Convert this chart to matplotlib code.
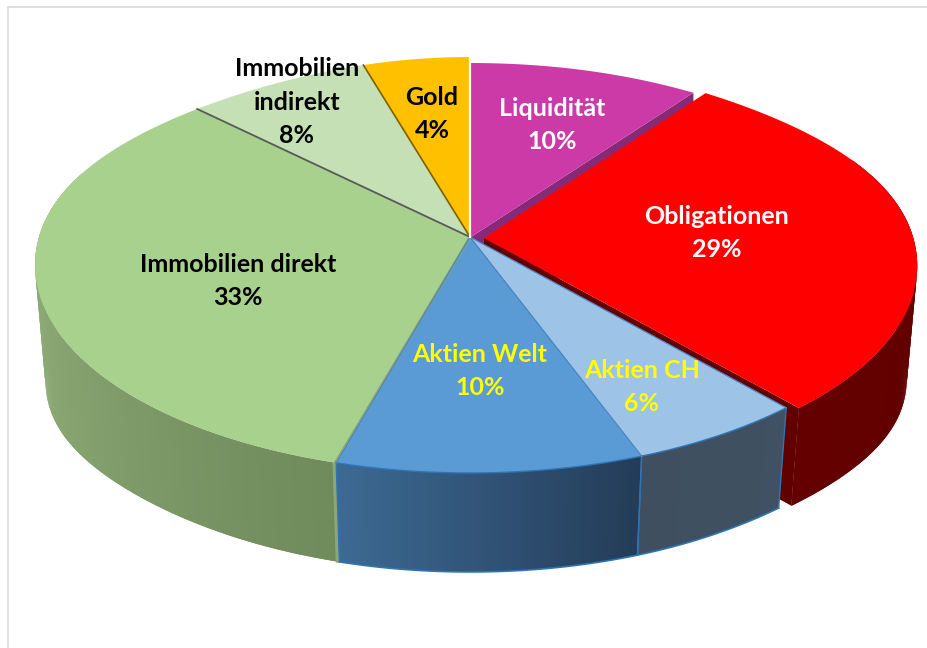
import numpy as np
import matplotlib
matplotlib.use("Agg")
import matplotlib.pyplot as plt

# shares, the printed labels are rounded
names = ["Liquidität", "Obligationen", "Aktien CH", "Aktien Welt",
         "Immobilien direkt", "Immobilien\nindirekt", "Gold"]
shares = [9.7, 28.8, 5.8, 10.0, 33.4, 7.7, 4.5]
percent_labels = ["10%", "29%", "6%", "10%", "33%", "8%", "4%"]

top_colors = ["#cc3aa8", "#ff0000", "#9dc3e6", "#5b9bd5", "#a9d18e", "#c5e0b4", "#ffc000"]
text_colors = ["white", "white", "#ffff00", "#ffff00", "black", "black", "black"]
# label centres, pixels
label_pos = [(552, 125), (717, 233), (642, 387), (480, 371), (238, 281), (297, 102), (432, 114)]

# projection of the tilted disc, pixels
cx, cy = 470.0, 237.0
rad_x, rad_y, persp = 431.0, 204.2, 0.1346
depth = 99.0
bottom_scale = 0.976


def ring(theta, scale=1.0, dx=0.0, dy=0.0, sink=0.0):
    # theta in degrees, clockwise from 12 o'clock
    t = np.radians(theta)
    u, v = np.sin(t), np.cos(t)
    d = 1 + persp * v
    # the back shoulders of the reference sit a little lower than an ellipse
    shoulder = 6 * np.sin(2 * t) ** 2 * (v > 0)
    return (cx + scale * rad_x * u / d + dx,
            cy - scale * rad_y * v / d + dy + shoulder + sink * np.clip(v, 0, 1) ** 8)


def to_bottom(x, y):
    # wall gets a bit taller towards the far left and right
    bump = 16 * (np.abs(x - cx) / 435) ** 8
    return cx + (x - cx) * bottom_scale, y + depth + bump


def wall(ax, a, b, col_a, col_b, dx=0.0, dy=0.0, scale=1.0, lift=0.0):
    # side wall as thin overlapping quads, drawn from back to front,
    # so the shading can run along the rim
    steps = max(int(abs(b - a) * 2), 1)
    col_a = np.array(matplotlib.colors.to_rgb(col_a))
    col_b = np.array(matplotlib.colors.to_rgb(col_b))
    angles = np.linspace(a, b, steps + 1)
    for i in range(steps):
        x, y = ring(angles[i:i + 3], scale)
        bx, by = to_bottom(x, y)
        f = i / steps
        c = col_a + (col_b - col_a) * f
        ax.fill(np.r_[x + dx, bx[::-1] + dx], np.r_[y + dy, by[::-1] + dy - lift],
                color=c, lw=0, zorder=2)


def top(ax, a, b, color, scale=1.0, dx=0.0, dy=0.0, z=4, sink=0.0):
    x, y = ring(np.linspace(a, b, 200), scale, dx, dy, sink)
    ax.fill(np.r_[cx + dx, x], np.r_[cy + dy, y], color=color, lw=0, zorder=z)


def main():
    fig = plt.figure(figsize=(9.27, 6.48), dpi=100)
    ax = fig.add_axes([0, 0, 1, 1])
    ax.set_xlim(0, 927)
    ax.set_ylim(648, 0)
    ax.axis("off")

    # frame of the chart area
    ax.plot([8, 8, 927], [648, 6.5, 6.5], color="#d9d9d9", lw=1.2, zorder=1)

    edges = np.r_[0, np.cumsum(shares)] / sum(shares) * 360
    red_dx, red_dy, red_scale = 14.0, 1.0, 0.996

    # Liquiditaet cut face, mostly hidden behind the red slice
    x, y = ring(edges[1], 1.0, 1.0, 0.0, 6.0)
    ax.fill([cx + 1, x, x, cx + 1], [cy, y, y + depth, cy + depth], color="#862a78", lw=0, zorder=1.5)

    # red wall and its cut face, bottom edge sits slightly higher than the others
    wall(ax, 65, edges[2], "#5f0000", "#640000", red_dx, red_dy, red_scale, lift=2.5)
    x, y = ring(edges[2], red_scale, red_dx, red_dy)
    bx, by = to_bottom(x - red_dx, y - red_dy)
    ax.fill([cx + red_dx, x, bx + red_dx, cx + red_dx], [cy + red_dy, y, by + red_dy - 2.5, cy + depth],
            color="#600000", lw=0, zorder=1.8)
    top(ax, edges[1], edges[2], top_colors[1], red_scale, red_dx, red_dy, z=2.5)

    # front walls
    wall(ax, edges[2], edges[3], "#3f5162", "#3f4f5f")
    wall(ax, edges[3], edges[4], "#243c58", "#3d6a94")
    wall(ax, 290, edges[4], "#9dbc84", "#6f8a5b")
    x, y = ring(edges[4])
    bx, by = to_bottom(x, y)
    ax.plot([x - 2, bx - 2], [y + 1, by - 1], color="#8aa874", lw=2.5, zorder=3)

    # outlines of the blue walls
    for a, b in [(edges[2], edges[3]), (edges[3], edges[4])]:
        x, y = ring(np.linspace(a, b, 80))
        bx, by = to_bottom(x, y)
        ax.plot(bx, by, color="#2e75b6", lw=1.2, zorder=3)
        ax.plot([x[0], bx[0]], [y[0], by[0]], color="#2e75b6", lw=1.0, zorder=3)
        ax.plot([x[-1], bx[-1]], [y[-1], by[-1]], color="#2e75b6", lw=1.0, zorder=3)

    # top faces
    top(ax, edges[0], edges[1], top_colors[0], 1.0, 1.0, 0.0, sink=6.0)
    for i in [2, 3, 4, 5, 6]:
        top(ax, edges[i], edges[i + 1], top_colors[i])

    # separators
    x, y = ring(edges[4])
    ax.plot([cx - 1, x - 1], [cy + 2, y], color="#8aa874", lw=2, zorder=5)
    for i in [2, 3]:
        x, y = ring(np.linspace(edges[i], edges[i + 1], 80))
        ax.plot(x, y, color="#2e75b6", lw=1.0, zorder=5)
    for a in edges[2:5]:
        x, y = ring(a)
        ax.plot([cx, x], [cy, y], color="#4a86c5", lw=0.9, zorder=5)
    x, y = ring(edges[5])
    ax.plot([cx, x], [cy, y], color="#595959", lw=1.3, zorder=5)
    x, y = ring(edges[6])
    ax.plot([cx, x], [cy, y], color="#806000", lw=1.2, zorder=5)
    ax.plot([cx, cx], [cy, 57], color="white", lw=1.6, zorder=5)

    # labels
    for name, pct, col, pos in zip(names, percent_labels, text_colors, label_pos):
        ax.text(pos[0], pos[1], f"{name}\n{pct}", color=col, ha="center", va="center",
                family=["Lato", "DejaVu Sans"], fontweight="bold", fontsize=18,
                linespacing=1.56, zorder=6)

    fig.savefig("out.png", dpi=100)


if __name__ == '__main__':
    main()
